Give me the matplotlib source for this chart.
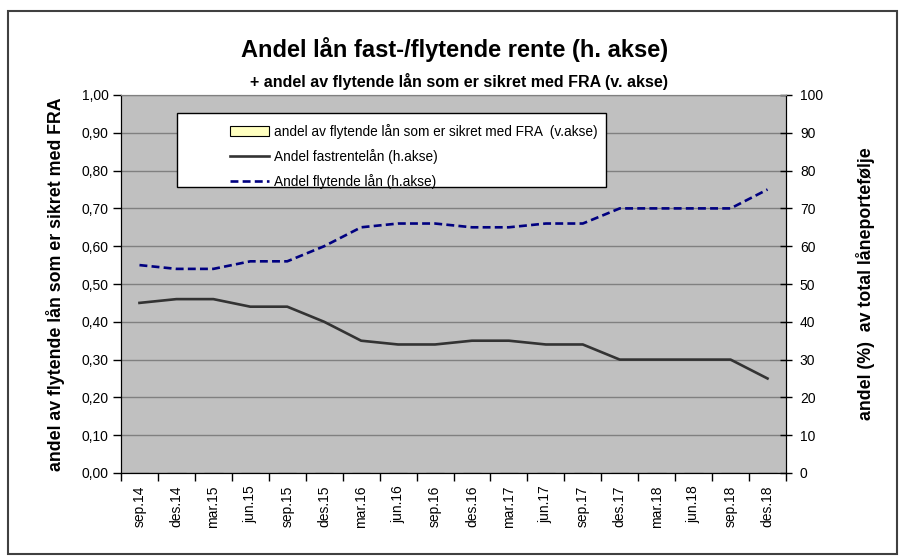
import matplotlib
matplotlib.use("Agg")
import matplotlib.pyplot as plt
from matplotlib.patches import Rectangle
from matplotlib.ticker import FixedLocator, FuncFormatter

plt.rcParams['font.family'] = ['Liberation Sans', 'DejaVu Sans']

periods = ['sep.14', 'des.14', 'mar.15', 'jun.15', 'sep.15', 'des.15',
           'mar.16', 'jun.16', 'sep.16', 'des.16', 'mar.17', 'jun.17',
           'sep.17', 'des.17', 'mar.18', 'jun.18', 'sep.18', 'des.18']
fastrente = [45, 46, 46, 44, 44, 40, 35, 34, 34, 35, 35, 34, 34, 30, 30, 30, 30, 25]
flytende = [55, 54, 54, 56, 56, 60, 65, 66, 66, 65, 65, 66, 66, 70, 70, 70, 70, 75]
fra_sikret = [0, 0, 0, 0, 0, 0, 0, 0, 0, 0, 0, 0, 0, 0, 0, 0, 0, 0]

W, H = 901, 558
fig = plt.figure(figsize=(W / 100, H / 100), dpi=100)
fig.patch.set_facecolor('white')

# plot area in pixels: left 121, right 786, top 95, bottom 473
ax1 = fig.add_axes([121 / W, 1 - 473 / H, (786 - 121) / W, (473 - 95) / H])
ax2 = ax1.twinx()

x = list(range(len(periods)))

ax1.set_facecolor('#C0C0C0')
bars = ax1.bar(x, fra_sikret, width=0.5, color='#FFFFC0', edgecolor='black', linewidth=0.8,
               label='andel av flytende lån som er sikret med FRA  (v.akse)')
l1, = ax2.plot(x, fastrente, color='#333333', lw=1.9,
               label='Andel fastrentelån (h.akse)')
l2, = ax2.plot(x, flytende, color='#000080', lw=1.9, dashes=(3, 1.6),
               label='Andel flytende lån (h.akse)')

ax1.set_xlim(-0.5, len(periods) - 0.5)
ax1.set_ylim(0, 1.0)
ax2.set_ylim(0, 100)

# y axes
ax1.set_yticks([i / 10 for i in range(11)])
ax1.yaxis.set_major_formatter(FuncFormatter(lambda v, p: f"{v:.2f}".replace('.', ',')))
ax2.set_yticks(range(0, 101, 10))
ax1.grid(axis='y', color='#808080', lw=1)
ax1.set_axisbelow(True)
ax1.tick_params(axis='y', direction='out', length=6, width=1, labelsize=10, pad=3)
ax2.tick_params(axis='y', direction='inout', length=8, width=1, labelsize=10, pad=6)

# x axis: ticks at category boundaries, labels at centres
ax1.xaxis.set_major_locator(FixedLocator([i - 0.5 for i in range(len(periods) + 1)]))
ax1.xaxis.set_minor_locator(FixedLocator(x))
ax1.set_xticklabels([], minor=False)
ax1.set_xticklabels(periods, minor=True, rotation=90)
ax1.tick_params(axis='x', which='major', direction='out', length=6, width=1)
ax1.tick_params(axis='x', which='minor', length=0, labelsize=10, pad=9)

for sp in ['left', 'bottom', 'right']:
    ax1.spines[sp].set_color('black')
    ax2.spines[sp].set_color('black')
ax1.spines['top'].set_color('#808080')
ax2.spines['top'].set_color('#808080')

ax1.set_ylabel('andel av flytende lån som er sikret med FRA', fontsize=12.8, fontweight='bold')
ax1.yaxis.label.set_ha('center')
ax1.yaxis.label.set_va('center')
ax1.yaxis.set_label_coords(-0.099, 0.5)
ax2.set_ylabel('andel (%)  av total låneportefølje', fontsize=12.8, fontweight='bold')
ax2.yaxis.label.set_ha('center')
ax2.yaxis.label.set_va('center')
ax2.yaxis.set_label_coords(1.119, 0.5)

# titles
fig.text(455 / W, 1 - 49 / H, 'Andel lån fast-/flytende rente (h. akse)',
         ha='center', va='center', fontsize=17, fontweight='bold')
fig.text(459 / W, 1 - 81 / H, '+ andel av flytende lån som er sikret med FRA (v. akse)',
         ha='center', va='center', fontsize=11.5, fontweight='bold')

# legend with Excel-like box
ax2.add_patch(Rectangle((0.0842, 0.7566), (606 - 177) / 665, 0.9524 - 0.7566,
                        transform=ax2.transAxes, facecolor='white', edgecolor='black',
                        lw=1, zorder=4))
leg = ax2.legend(handles=[bars, l1, l2], loc='upper left', bbox_to_anchor=(0.1534, 0.942),
                 frameon=False, borderpad=0, fontsize=9.8, handlelength=2.87,
                 handletextpad=0.37, labelspacing=0.75)
leg.set_zorder(5)

# outer chart border
fig.add_artist(Rectangle((8 / W, 1 - 554 / H), (897 - 8) / W, (554 - 11) / H,
                         transform=fig.transFigure, fill=False, edgecolor='#404040', lw=1.5))

fig.savefig('out.png', dpi=100)
